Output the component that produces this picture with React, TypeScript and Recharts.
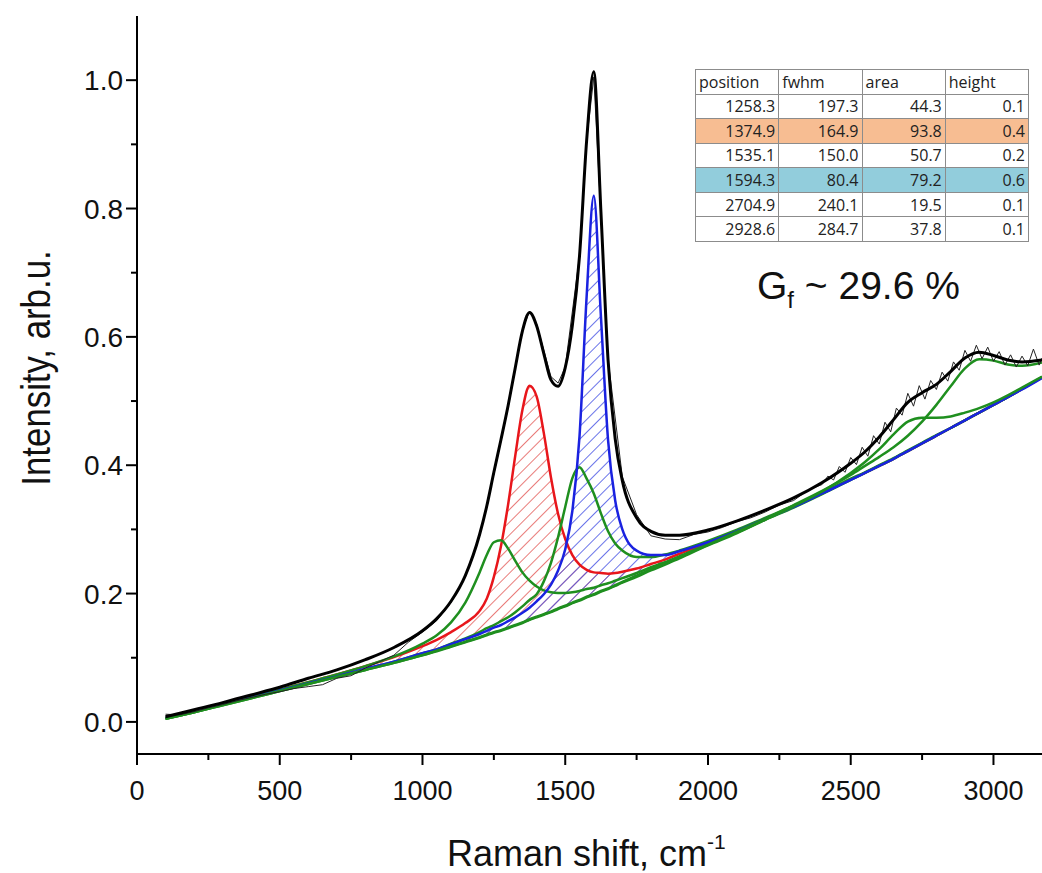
import { ComposedChart, Line, Area, XAxis, YAxis } from 'recharts';

// Raman shift samples (cm-1) used by the fitted curves
const SHIFT = [
  100, 200, 300, 400, 500, 600, 700, 800, 900, 1000,
  1050, 1100, 1150, 1200,
  1225, 1250, 1275, 1300, 1325, 1350, 1375, 1400, 1425, 1450, 1475, 1500, 1525, 1550, 1575, 1600, 1625, 1650, 1675, 1700,
  1750, 1800, 1850, 1900,
  2000, 2100, 2200, 2300, 2400, 2500,
  2550, 2600, 2650, 2700, 2750, 2800, 2850, 2900, 2950, 3000, 3050, 3100,
  3170,
];

const BASELINE = [
  0.005, 0.015, 0.026, 0.037, 0.048, 0.059, 0.07, 0.081, 0.092, 0.104,
  0.11, 0.117, 0.124, 0.131,
  0.135, 0.139, 0.142, 0.146, 0.15, 0.154, 0.159, 0.163, 0.167, 0.171, 0.176, 0.18, 0.185, 0.189, 0.194, 0.198, 0.203, 0.207, 0.212, 0.217,
  0.226, 0.236, 0.245, 0.255,
  0.274, 0.293, 0.313, 0.333, 0.354, 0.376,
  0.387, 0.398, 0.409, 0.421, 0.433, 0.445, 0.457, 0.469, 0.481, 0.493, 0.505, 0.518,
  0.536,
];

// cumulative fit (black)
const FIT = [
  0.008, 0.019, 0.03, 0.042, 0.054, 0.068, 0.081, 0.097, 0.116, 0.142,
  0.161, 0.188, 0.228, 0.292,
  0.336, 0.389, 0.44, 0.493, 0.552, 0.609, 0.638, 0.617, 0.574, 0.533, 0.523, 0.552, 0.618, 0.726, 0.906, 1.013, 0.795, 0.564, 0.441, 0.376,
  0.318, 0.297, 0.291, 0.291,
  0.299, 0.313, 0.33, 0.349, 0.373, 0.403,
  0.421, 0.444, 0.471, 0.498, 0.513, 0.526, 0.546, 0.567, 0.576, 0.571, 0.564, 0.561,
  0.564,
];

// D band ~1375 (red)
const PEAK_D = [
  0.006, 0.016, 0.027, 0.039, 0.05, 0.062, 0.074, 0.087, 0.101, 0.118,
  0.128, 0.14, 0.154, 0.173,
  0.192, 0.226, 0.274, 0.339, 0.415, 0.486, 0.524, 0.507, 0.45, 0.381, 0.324, 0.285, 0.26, 0.245, 0.237, 0.233, 0.232, 0.231, 0.232, 0.234,
  0.239, 0.246, 0.253, 0.262,
  0.279, 0.297, 0.316, 0.336, 0.356, 0.378,
  0.388, 0.399, 0.41, 0.422, 0.434, 0.446, 0.458, 0.47, 0.482, 0.494, 0.506, 0.519,
  0.537,
];

// G band ~1594 (blue)
const PEAK_G = [
  0.006, 0.016, 0.027, 0.038, 0.049, 0.06, 0.071, 0.083, 0.094, 0.107,
  0.113, 0.121, 0.129, 0.137,
  0.142, 0.147, 0.151, 0.157, 0.163, 0.17, 0.178, 0.188, 0.199, 0.214, 0.236, 0.269, 0.329, 0.445, 0.663, 0.82, 0.632, 0.439, 0.345, 0.3,
  0.267, 0.26, 0.26, 0.266,
  0.28, 0.297, 0.316, 0.335, 0.356, 0.377,
  0.388, 0.399, 0.41, 0.422, 0.434, 0.446, 0.458, 0.47, 0.482, 0.494, 0.506, 0.518,
  0.536,
];

// green components: 1258, 1535, 2705, 2929
const PEAK_1258 = [
  0.006, 0.016, 0.028, 0.039, 0.05, 0.062, 0.074, 0.087, 0.102, 0.122,
  0.135, 0.155, 0.186, 0.233,
  0.26, 0.28, 0.283, 0.27, 0.251, 0.233, 0.22, 0.211, 0.205, 0.202, 0.201, 0.201, 0.202, 0.204, 0.207, 0.209, 0.213, 0.216, 0.22, 0.224,
  0.232, 0.241, 0.249, 0.258,
  0.277, 0.295, 0.315, 0.334, 0.355, 0.377,
  0.388, 0.399, 0.41, 0.422, 0.434, 0.446, 0.458, 0.47, 0.482, 0.494, 0.506, 0.519,
  0.537,
];

const PEAK_1535 = [
  0.005, 0.015, 0.027, 0.038, 0.049, 0.06, 0.071, 0.082, 0.094, 0.107,
  0.113, 0.122, 0.13, 0.14,
  0.146, 0.151, 0.157, 0.163, 0.171, 0.18, 0.19, 0.199, 0.219, 0.248, 0.288, 0.335, 0.38, 0.397, 0.379, 0.356, 0.325, 0.297, 0.278, 0.267,
  0.257, 0.257, 0.261, 0.267,
  0.282, 0.299, 0.318, 0.337, 0.357, 0.379,
  0.389, 0.4, 0.411, 0.423, 0.435, 0.447, 0.458, 0.47, 0.482, 0.494, 0.506, 0.519,
  0.537,
];

const PEAK_2705 = [
  0.005, 0.015, 0.026, 0.037, 0.048, 0.059, 0.07, 0.081, 0.092, 0.104,
  0.11, 0.117, 0.124, 0.131,
  0.135, 0.139, 0.142, 0.146, 0.15, 0.154, 0.159, 0.163, 0.167, 0.171, 0.176, 0.18, 0.185, 0.189, 0.194, 0.198, 0.203, 0.207, 0.212, 0.217,
  0.226, 0.236, 0.245, 0.255,
  0.275, 0.294, 0.315, 0.336, 0.359, 0.388,
  0.405, 0.425, 0.448, 0.468, 0.474, 0.474, 0.476, 0.482, 0.489, 0.498, 0.509, 0.521,
  0.538,
];

const PEAK_2929 = [
  0.005, 0.015, 0.026, 0.037, 0.048, 0.059, 0.07, 0.081, 0.092, 0.104,
  0.111, 0.118, 0.125, 0.132,
  0.136, 0.14, 0.143, 0.147, 0.151, 0.155, 0.16, 0.164, 0.168, 0.172, 0.177, 0.181, 0.186, 0.19, 0.195, 0.199, 0.204, 0.208, 0.213, 0.218,
  0.228, 0.238, 0.247, 0.257,
  0.276, 0.296, 0.316, 0.338, 0.36, 0.385,
  0.399, 0.413, 0.428, 0.446, 0.468, 0.494, 0.523, 0.551, 0.565, 0.563, 0.557, 0.555,
  0.56,
];

// measured spectrum (thin black, noisy)
const RAW_SHIFT = [
  100, 150, 200, 250, 300, 350, 400, 450, 500, 550, 600, 650, 700, 750, 800, 850, 900, 950, 1000,
  1050, 1100, 1150, 1200, 1250, 1300, 1350, 1375, 1400, 1450, 1475, 1500, 1550, 1575, 1600, 1625, 1650,
  1700, 1750, 1800, 1850, 1900, 1950, 2000, 2050, 2100, 2150, 2200, 2250, 2300, 2350,
  2400, 2420, 2440, 2460, 2480, 2500, 2520, 2540, 2560, 2580, 2600, 2620, 2640, 2660, 2680, 2700,
  2720, 2740, 2760, 2780, 2800, 2820, 2840, 2860, 2880, 2900, 2920, 2940, 2960, 2980, 3000,
  3020, 3040, 3060, 3080, 3100, 3120, 3140, 3160, 3170,
];

const RAW_INTENSITY = [
  0.012, 0.011, 0.016, 0.022, 0.027, 0.033, 0.038, 0.043, 0.047, 0.052, 0.055, 0.058, 0.068, 0.072, 0.084, 0.094, 0.104, 0.124, 0.14,
  0.158, 0.186, 0.226, 0.29, 0.386, 0.49, 0.611, 0.64, 0.62, 0.538, 0.528, 0.553, 0.726, 0.906, 1.005, 0.79, 0.565,
  0.382, 0.323, 0.29, 0.285, 0.284, 0.292, 0.296, 0.303, 0.312, 0.318, 0.327, 0.338, 0.345, 0.361,
  0.37, 0.383, 0.377, 0.398, 0.389, 0.412, 0.401, 0.428, 0.414, 0.446, 0.433, 0.467, 0.452, 0.489, 0.478, 0.512,
  0.492, 0.524, 0.503, 0.532, 0.518, 0.545, 0.531, 0.561, 0.548, 0.579, 0.562, 0.587, 0.566, 0.584, 0.562,
  0.577, 0.556, 0.572, 0.553, 0.57, 0.555, 0.581, 0.556, 0.567,
];

const X_TICKS = [0, 250, 500, 750, 1000, 1250, 1500, 1750, 2000, 2250, 2500, 2750, 3000];
const Y_TICKS = [0, 0.1, 0.2, 0.3, 0.4, 0.5, 0.6, 0.7, 0.8, 0.9, 1.0];

const TABLE_HEAD = ['position', 'fwhm', 'area', 'height'];
const TABLE_ROWS = [
  ['1258.3', '197.3', '44.3', '0.1'],
  ['1374.9', '164.9', '93.8', '0.4'],
  ['1535.1', '150.0', '50.7', '0.2'],
  ['1594.3', '80.4', '79.2', '0.6'],
  ['2704.9', '240.1', '19.5', '0.1'],
  ['2928.6', '284.7', '37.8', '0.1'],
];
const ROW_BG = ['#fff', '#f7bd92', '#fff', '#92cddc', '#fff', '#fff'];

const rows = SHIFT.map((x, i) => ({
  x,
  fit: FIT[i],
  d: PEAK_D[i],
  g: PEAK_G[i],
  p1258: PEAK_1258[i],
  p1535: PEAK_1535[i],
  p2705: PEAK_2705[i],
  p2929: PEAK_2929[i],
  dBand: [BASELINE[i], PEAK_D[i]],
  gBand: [BASELINE[i], PEAK_G[i]],
}));

const rawRows = RAW_SHIFT.map((x, i) => ({ x, raw: RAW_INTENSITY[i] }));

const FONT = '"Liberation Sans", Arial, sans-serif';
const GREEN = '#1f8f1f';

function XTick(props: any) {
  const { x, y, payload } = props;
  const major = payload.value % 500 === 0;
  return (
    <g>
      <line x1={x} x2={x} y1={y} y2={y + (major ? 11 : 6)} stroke="#000" strokeWidth={2} />
      {major && (
        <text x={x} y={y + 46} textAnchor="middle" fontSize={27} fontFamily={FONT} fill="#111">
          {payload.value}
        </text>
      )}
    </g>
  );
}

function YTick(props: any) {
  const { x, y, payload } = props;
  const major = Math.round(payload.value * 10) % 2 === 0;
  return (
    <g>
      <line x1={x} x2={x - (major ? 11 : 6)} y1={y} y2={y} stroke="#000" strokeWidth={2} />
      {major && (
        <text x={x - 14} y={y + 10} textAnchor="end" fontSize={28} fontFamily={FONT} fill="#111">
          {payload.value.toFixed(1)}
        </text>
      )}
    </g>
  );
}

export default function App() {
  return (
    <div style={{ position: 'absolute', left: 0, top: 0, width: 1042, height: 873, background: '#fff', overflow: 'hidden' }}>
      <ComposedChart width={1042} height={873} data={rows} margin={{ top: 16, right: 0, bottom: 0, left: 0 }}>
        <defs>
          <pattern id="hatchRed" patternUnits="userSpaceOnUse" width={9} height={9} patternTransform="rotate(45)">
            <line x1={0} y1={0} x2={0} y2={9} stroke="#e35a58" strokeWidth={1.6} />
          </pattern>
          <pattern id="hatchBlue" patternUnits="userSpaceOnUse" width={9} height={9} patternTransform="rotate(45)">
            <line x1={0} y1={0} x2={0} y2={9} stroke="#4450e4" strokeWidth={1.6} />
          </pattern>
        </defs>
        <XAxis
          dataKey="x"
          type="number"
          domain={[0, 3170]}
          allowDataOverflow
          ticks={X_TICKS}
          interval={0}
          height={119}
          tickSize={0}
          tickMargin={0}
          tickLine={false}
          tick={<XTick />}
          axisLine={{ stroke: '#000', strokeWidth: 2 }}
        />
        <YAxis
          type="number"
          domain={[-0.05, 1.1]}
          allowDataOverflow
          ticks={Y_TICKS}
          interval={0}
          width={137}
          tickSize={0}
          tickMargin={0}
          tickLine={false}
          tick={<YTick />}
          axisLine={{ stroke: '#000', strokeWidth: 2 }}
        />
        <Area dataKey="dBand" type="monotone" stroke="none" fill="url(#hatchRed)" fillOpacity={1} isAnimationActive={false} />
        <Area dataKey="gBand" type="monotone" stroke="none" fill="url(#hatchBlue)" fillOpacity={1} isAnimationActive={false} />
        <Line dataKey="d" type="monotone" stroke="#e8161b" strokeWidth={2.5} dot={false} isAnimationActive={false} />
        <Line dataKey="p1258" type="monotone" stroke={GREEN} strokeWidth={2.5} dot={false} isAnimationActive={false} />
        <Line dataKey="p1535" type="monotone" stroke={GREEN} strokeWidth={2.5} dot={false} isAnimationActive={false} />
        <Line dataKey="g" type="monotone" stroke="#1a22e0" strokeWidth={2.5} dot={false} isAnimationActive={false} />
        <Line dataKey="p2705" type="monotone" stroke={GREEN} strokeWidth={2.5} dot={false} isAnimationActive={false} />
        <Line dataKey="p2929" type="monotone" stroke={GREEN} strokeWidth={2.5} dot={false} isAnimationActive={false} />
        <Line data={rawRows} dataKey="raw" type="linear" stroke="#222" strokeWidth={1} dot={false} isAnimationActive={false} />
        <Line dataKey="fit" type="monotone" stroke="#000" strokeWidth={3} dot={false} isAnimationActive={false} />
      </ComposedChart>

      <svg width={1042} height={873} style={{ position: 'absolute', left: 0, top: 0, pointerEvents: 'none' }}>
        <text transform="translate(50,368) rotate(-90) scale(0.87,1)" textAnchor="middle" fontSize={40} fontFamily={FONT} fill="#111">
          Intensity, arb.u.
        </text>
        <text x={447} y={866} fontSize={36} fontFamily={FONT} fill="#111">
          Raman shift, cm<tspan fontSize={21} dy={-17}>-1</tspan>
        </text>
        <text x={757} y={299} fontSize={39} fontFamily={FONT} fill="#111">
          G<tspan fontSize={24} dy={9}>f</tspan>
          <tspan dy={-9}> ~ 29.6 %</tspan>
        </text>
      </svg>

      <table
        style={{
          position: 'absolute',
          left: 695,
          top: 69,
          width: 334,
          height: 173,
          borderCollapse: 'collapse',
          fontFamily: '"Open Sans", Lato, sans-serif',
          fontSize: 16,
          color: '#222',
          tableLayout: 'fixed',
        }}
      >
        <tbody>
          <tr>
            {TABLE_HEAD.map((h) => (
              <td key={h} style={{ border: '1px solid #8c8c8c', padding: '0 3px', textAlign: 'left', background: '#fff' }}>
                {h}
              </td>
            ))}
          </tr>
          {TABLE_ROWS.map((r, i) => (
            <tr key={i}>
              {r.map((c, j) => (
                <td key={j} style={{ border: '1px solid #8c8c8c', padding: '0 3px', textAlign: 'right', background: ROW_BG[i] }}>
                  {c}
                </td>
              ))}
            </tr>
          ))}
        </tbody>
      </table>
    </div>
  );
}
